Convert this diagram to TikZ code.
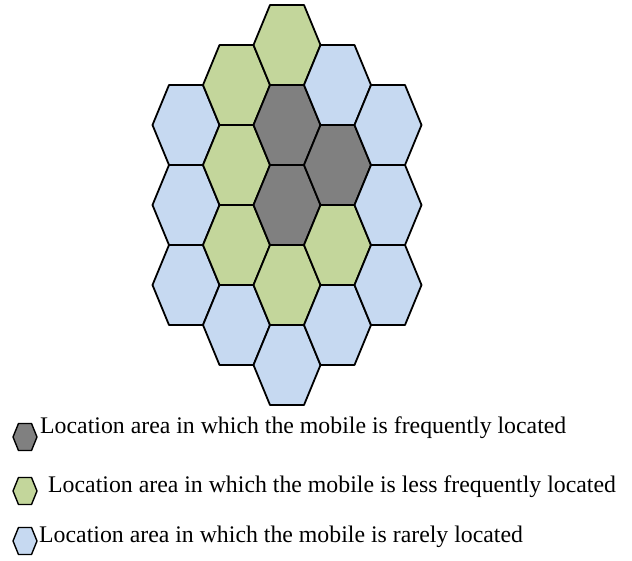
\documentclass[tikz,border=0pt]{standalone}
\usepackage{fontspec}
\setmainfont{Liberation Serif}
\usetikzlibrary{positioning}

\definecolor{cellgray}{RGB}{128,128,128}
\definecolor{cellgreen}{RGB}{195,214,155}
\definecolor{cellblue}{RGB}{198,217,241}

\tikzset{
  cell/.style={draw=black, line width=1.8pt, line join=round},
  keycell/.style={draw=black, line width=1.4pt, line join=round},
  keytext/.style={font=\fontsize{23.8}{28}\selectfont, anchor=base west, inner sep=0pt},
}

% one location area: centre (x,y) and fill colour
\newcommand{\hexcell}[3]{%
  \filldraw[cell, fill=#3, shift={(#1,#2)}]
    (-33.5,0) -- (-17,-40) -- (17,-40) -- (33.5,0) -- (17,40) -- (-17,40) -- cycle;}
% small cell for the legend
\newcommand{\hexkey}[3]{%
  \filldraw[keycell, fill=#3, shift={(#1,#2)}]
    (-12,0) -- (-6.5,-13.5) -- (6.5,-13.5) -- (12,0) -- (6.5,13.5) -- (-6.5,13.5) -- cycle;}

\begin{document}
\begin{tikzpicture}[x=1pt, y=-1pt]
  \useasboundingbox (0,0) rectangle (632,560);
  % columns 50.5 apart, cells 80 high
  % left column
  \hexcell{186}{125}{cellblue}
  \hexcell{186}{205}{cellblue}
  \hexcell{186}{285}{cellblue}
  % second column
  \hexcell{236.5}{85}{cellgreen}
  \hexcell{236.5}{165}{cellgreen}
  \hexcell{236.5}{245}{cellgreen}
  \hexcell{236.5}{325}{cellblue}
  % middle column
  \hexcell{287}{45}{cellgreen}
  \hexcell{287}{125}{cellgray}
  \hexcell{287}{205}{cellgray}
  \hexcell{287}{285}{cellgreen}
  \hexcell{287}{365}{cellblue}
  % fourth column
  \hexcell{337.5}{85}{cellblue}
  \hexcell{337.5}{165}{cellgray}
  \hexcell{337.5}{245}{cellgreen}
  \hexcell{337.5}{325}{cellblue}
  % right column
  \hexcell{388}{125}{cellblue}
  \hexcell{388}{205}{cellblue}
  \hexcell{388}{285}{cellblue}

  % legend
  \hexkey{25}{437}{cellgray}
  \node[keytext] (keyfreq) at (40,433) {Location area in which the mobile is frequently located};
  \hexkey{25}{491}{cellgreen}
  \node[keytext] (keyless) at (48,492) {Location area in which the mobile is less frequently located};
  \hexkey{25}{541}{cellblue}
  \node[keytext] (keyrare) at (39,542) {Location area in which the mobile is rarely located};
\end{tikzpicture}
\end{document}
